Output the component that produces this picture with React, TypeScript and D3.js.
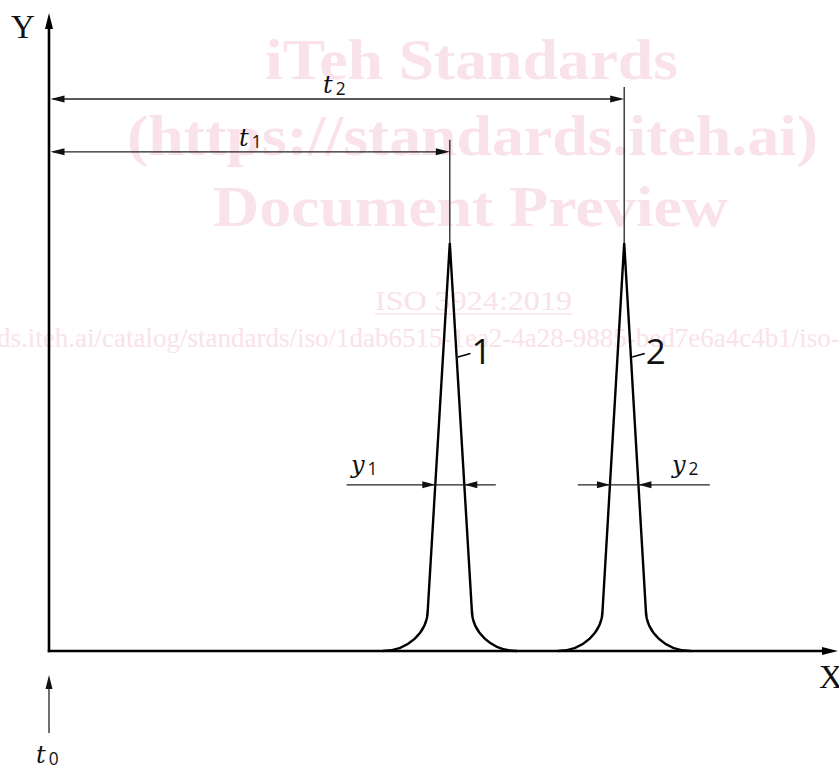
import React from 'react';
import * as d3 from 'd3';

const width = 839;
const height = 769;

// peak data (time units / signal units)
const peakLabels = ['1', '2'];
const peakTimes = [50.1, 71.9];
const peakHeights = [68, 68];
const kneeHeights = [6.9, 6.9];
const kneeHalfWidths = [2.75, 2.7];
const footHalfWidths = [8.4, 8.3];
const widthLevel = 27.7; // height where y1, y2 are measured
const widthDimStart = [37.2, 66.1]; // extents of the y1 / y2 dimension lines
const widthDimEnd = [55.85, 82.6];
const timeSubs = ['1', '2'];
const dimLevels = [83.2, 92]; // signal units for the t1 / t2 dimension lines
const extTops = [85.2, 94];
const labelLevel = 49.5; // where the peak leaders touch the flank

// watermark text
const wmBig = ['iTeh Standards', '(https://standards.iteh.ai)', 'Document Preview'];
const wmSmall = ['ISO 3924:2019', 'ds.iteh.ai/catalog/standards/iso/1dab6515-1ea2-4a28-9885-bed7e6a4c4b1/iso-3924-2019'];

const xScale = d3.scaleLinear().domain([0, 100]).range([49, 849]);
const yScale = d3.scaleLinear().domain([0, 100]).range([651, 51]);

const serifItalic = '"DejaVu Serif", "Liberation Serif", serif';
const sans = '"Open Sans", "Noto Sans", sans-serif';
const pink = '#f9e2e9';

// flank x position for a peak at a given signal level
const flankX = (i: number, h: number, side: number) => {
  const half = kneeHalfWidths[i] * (peakHeights[i] - h) / (peakHeights[i] - kneeHeights[i]);
  return xScale(peakTimes[i] + side * half);
};

const peakPath = (i: number) => {
  const c = peakTimes[i];
  const k = 0.552;
  const p = d3.path();
  const y0 = yScale(0);
  const yk = yScale(kneeHeights[i]);
  const fl = xScale(c - footHalfWidths[i]);
  const kl = xScale(c - kneeHalfWidths[i]);
  const kr = xScale(c + kneeHalfWidths[i]);
  const fr = xScale(c + footHalfWidths[i]);
  p.moveTo(fl, y0);
  p.bezierCurveTo(fl + k * (kl - fl), y0, kl, yk + k * (y0 - yk), kl, yk);
  p.lineTo(xScale(c), yScale(peakHeights[i]));
  p.lineTo(kr, yk);
  p.bezierCurveTo(kr, yk + k * (y0 - yk), fr - k * (fr - kr), y0, fr, y0);
  return p.toString();
};

// filled arrowhead with its tip at (x, y) pointing in direction (dx, dy)
const Arrow = ({ x, y, dx, dy, len = 14, half = 3.5, fill = '#111' }: any) => {
  const bx = x - dx * len;
  const by = y - dy * len;
  const px = -dy * half;
  const py = dx * half;
  return <path d={`M${x},${y}L${bx + px},${by + py}L${bx - px},${by - py}Z`} fill={fill} />;
};

const SubLabel = ({ x, y, main, sub, size = 24 }: any) => (
  <text x={x} y={y} fontSize={size} fill="#111">
    <tspan fontFamily={serifItalic} fontStyle="italic">{main}</tspan>
    <tspan dx={3} dy={2} fontFamily={sans} fontSize={size * 0.72}>{sub}</tspan>
  </text>
);

const App = () => {
  const x0 = xScale(0);
  const y0 = yScale(0);
  const yTop = 13;
  const xEnd = 838;
  const dimStroke = '#222';

  return (
    <svg width={width} height={height} style={{ position: 'absolute', left: 0, top: 0 }}>
      <rect width={width} height={height} fill="#fff" />

      {/* watermark */}
      <g fill={pink} fontFamily='"Liberation Serif", serif' fontWeight="bold">
        <text x={265} y={79} fontSize={56} textLength={413} lengthAdjust="spacingAndGlyphs">{wmBig[0]}</text>
        <text x={127} y={155} fontSize={56} textLength={691} lengthAdjust="spacingAndGlyphs">{wmBig[1]}</text>
        <text x={213} y={226} fontSize={56} textLength={515} lengthAdjust="spacingAndGlyphs">{wmBig[2]}</text>
      </g>
      <g fill={pink} fontFamily='"Liberation Serif", serif'>
        <text x={375} y={310} fontSize={27} textLength={197} lengthAdjust="spacingAndGlyphs">{wmSmall[0]}</text>
        <line x1={375} x2={572} y1={314} y2={314} stroke={pink} strokeWidth={1.5} />
        <text x={-3} y={347} fontSize={27}>{wmSmall[1]}</text>
      </g>

      {/* axes */}
      <line x1={x0} x2={x0} y1={y0 + 1.2} y2={yTop + 12} stroke="#000" strokeWidth={2.6} />
      <Arrow x={x0} y={yTop} dx={0} dy={-1} len={16} half={4} fill="#000" />
      <line x1={x0 - 1.2} x2={xEnd - 12} y1={y0} y2={y0} stroke="#000" strokeWidth={2.6} />
      <Arrow x={xEnd} y={y0} dx={1} dy={0} len={16} half={4} fill="#000" />
      <text x={11} y={38} fontFamily='"Liberation Serif", serif' fontSize={33} fill="#111">Y</text>
      <text x={819} y={688} fontFamily='"Liberation Serif", serif' fontSize={33} fill="#111">X</text>

      {/* t0 marker */}
      <line x1={x0} x2={x0} y1={733} y2={686} stroke={dimStroke} strokeWidth={1.3} />
      <Arrow x={x0} y={675} dx={0} dy={-1} len={14} half={3.5} />
      <SubLabel x={36} y={763} main="t" sub="0" />

      {/* peaks */}
      {peakTimes.map((t, i) => {
        const lx = flankX(i, labelLevel, 1);
        return (
          <g key={peakLabels[i]}>
            <path d={peakPath(i)} fill="none" stroke="#000" strokeWidth={2.4} strokeLinejoin="miter" />
            {/* extension line */}
            <line x1={xScale(t)} x2={xScale(t)} y1={yScale(peakHeights[i])} y2={yScale(extTops[i])} stroke={dimStroke} strokeWidth={1.3} />
            {/* retention time dimension */}
            <line x1={x0 + 4} x2={xScale(t) - 4} y1={yScale(dimLevels[i])} y2={yScale(dimLevels[i])} stroke={dimStroke} strokeWidth={1.3} />
            <Arrow x={x0 + 1.5} y={yScale(dimLevels[i])} dx={-1} dy={0} />
            <Arrow x={xScale(t)} y={yScale(dimLevels[i])} dx={1} dy={0} />
            {/* peak label with leader */}
            <line x1={lx + 1.5} x2={lx + 14} y1={357} y2={353.5} stroke="#000" strokeWidth={1.3} />
            <text x={lx + 15} y={364} fontFamily={sans} fontSize={35} fill="#111">{peakLabels[i]}</text>
          </g>
        );
      })}
      <SubLabel x={239} y={146} main="t" sub={timeSubs[0]} />
      <SubLabel x={323} y={93} main="t" sub={timeSubs[1]} />

      {/* width dimensions y1, y2 */}
      {peakTimes.map((t, i) => {
        const yy = yScale(widthLevel);
        return (
          <g key={'w' + i}>
            <line x1={xScale(widthDimStart[i])} x2={xScale(widthDimEnd[i])} y1={yy} y2={yy} stroke={dimStroke} strokeWidth={1.3} />
            <Arrow x={flankX(i, widthLevel, -1)} y={yy} dx={1} dy={0} len={13} />
            <Arrow x={flankX(i, widthLevel, 1)} y={yy} dx={-1} dy={0} len={13} />
          </g>
        );
      })}
      <SubLabel x={351} y={473} main="y" sub="1" />
      <SubLabel x={672} y={473} main="y" sub="2" />
    </svg>
  );
};

export default App;
